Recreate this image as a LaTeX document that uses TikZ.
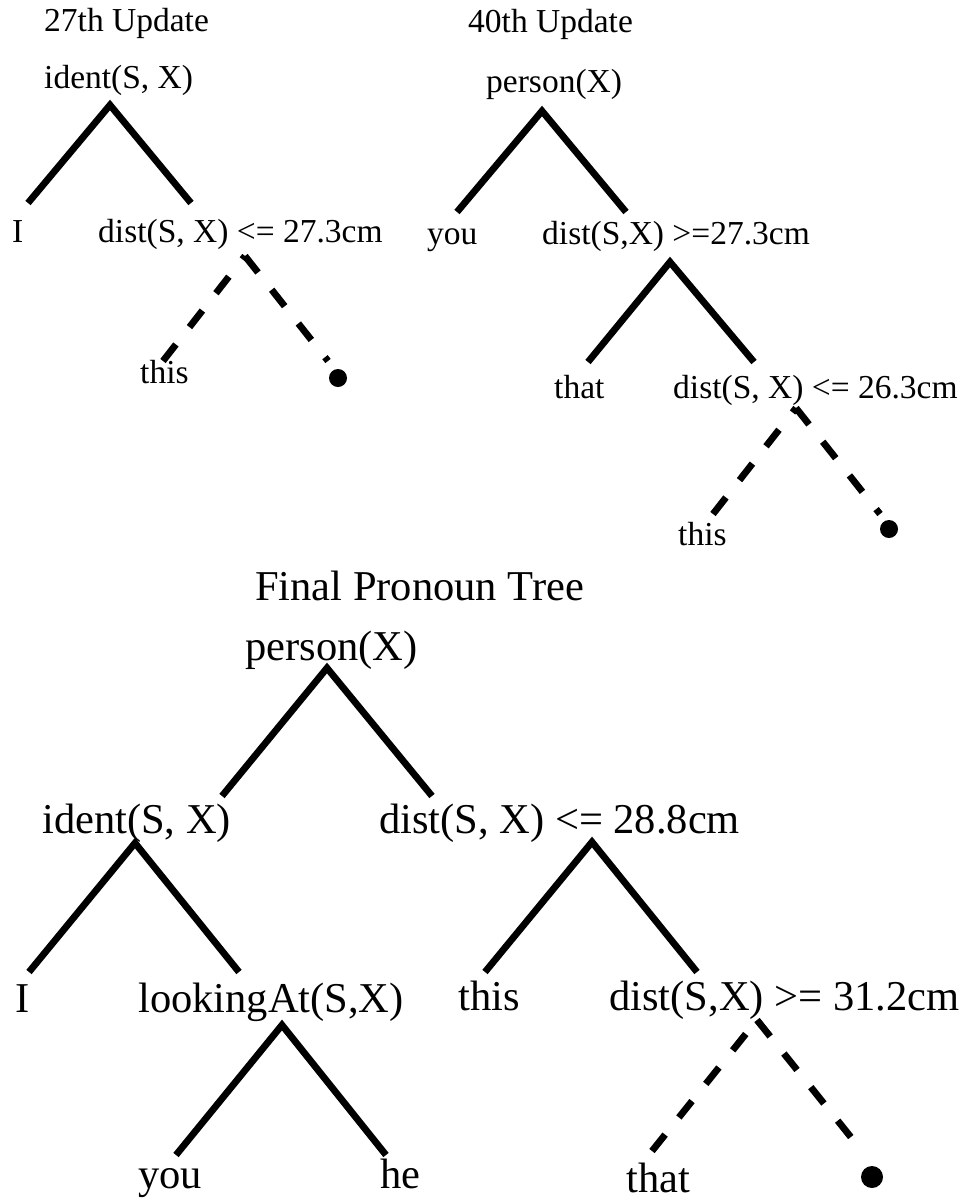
\documentclass[tikz,border=0pt]{standalone}
\usepackage{fontspec}
\setmainfont{Liberation Serif}
\begin{document}
\begin{tikzpicture}[x=1pt,y=-1pt]
\tikzset{
  lbl/.style={anchor=base west, inner sep=0pt, font=\fontsize{33.5}{40}\selectfont},
  biglbl/.style={anchor=base west, inner sep=0pt, font=\fontsize{42.5}{50}\selectfont},
  branch/.style={line width=6.8pt, line join=miter, line cap=butt},
  dbranch/.style={line width=6.8pt, line cap=butt, dash pattern=on 21pt off 22pt},
  leafdot/.style={circle, fill=black, draw=none, inner sep=0pt, minimum size=18pt},
}
\useasboundingbox (0,0) rectangle (966,1203);

% ---------- 27th Update ----------
\node[lbl] (t27) at (44,31) {27th Update};
\node[lbl] (ident1) at (44,88) {ident(S, X)};
\node[lbl] (I1) at (12,242) {I};
\node[lbl] (dist1) at (98,242) {dist(S, X) <= 27.3cm};
\node[lbl] (this1) at (140,383) {this};
\node[leafdot] (dot1) at (338,378) {};
\coordinate (a1) at (110,105);
\coordinate (l1) at (28,203);
\coordinate (r1) at (191,203);
\coordinate (a2) at (245,256);
\coordinate (l2) at (163,361);
\coordinate (r2) at (328,361);
\draw[branch] (l1) -- (a1) -- (r1);
\draw[dbranch] (l2) -- (a2);
\draw[dbranch] (a2) -- (r2);

% ---------- 40th Update ----------
\node[lbl] (t40) at (468,32) {40th Update};
\node[lbl] (person1) at (486,92) {person(X)};
\node[lbl] (you1) at (427,244) {you};
\node[lbl] (dist2) at (542,244) {dist(S,X) >=27.3cm};
\node[lbl] (that1) at (554,398) {that};
\node[lbl] (dist3) at (673,398) {dist(S, X) <= 26.3cm};
\node[lbl] (this2) at (678,545) {this};
\node[leafdot] (dot2) at (889,529) {};
\coordinate (a3) at (542,111);
\coordinate (l3) at (457,212);
\coordinate (r3) at (626,212);
\coordinate (a4) at (670,262);
\coordinate (l4) at (588,362);
\coordinate (r4) at (754,362);
\coordinate (a5) at (796,408);
\coordinate (l5) at (713,514);
\coordinate (r5) at (880,514);
\draw[branch] (l3) -- (a3) -- (r3);
\draw[branch] (l4) -- (a4) -- (r4);
\draw[dbranch] (l5) -- (a5);
\draw[dbranch] (a5) -- (r5);

% ---------- Final Pronoun Tree ----------
\node[biglbl] (tfinal) at (255,600) {Final Pronoun Tree};
\node[biglbl] (person2) at (245,660) {person(X)};
\node[biglbl] (ident2) at (42,833) {ident(S, X)};
\node[biglbl] (dist4) at (379,833) {dist(S, X) <= 28.8cm};
\node[biglbl] (I2) at (15,1012) {I};
\node[biglbl] (look) at (138,1012) {lookingAt(S,X)};
\node[biglbl] (this3) at (458,1010) {this};
\node[biglbl] (dist5) at (609,1010) {dist(S,X) >= 31.2cm};
\node[biglbl] (you2) at (138,1188) {you};
\node[biglbl] (he) at (380,1188) {he};
\node[biglbl] (that2) at (626,1192) {that};
\node[leafdot, minimum size=22pt] (dot3) at (872,1177) {};
\coordinate (a6) at (327,668);
\coordinate (l6) at (222,796);
\coordinate (r6) at (432,796);
\coordinate (a7) at (135,843);
\coordinate (l7) at (29,972);
\coordinate (r7) at (239,972);
\coordinate (a8) at (592,842);
\coordinate (l8) at (485,972);
\coordinate (r8) at (697,972);
\coordinate (a9) at (282,1025);
\coordinate (l9) at (176,1155);
\coordinate (r9) at (386,1155);
\coordinate (a10) at (757,1020);
\coordinate (l10) at (652,1151);
\coordinate (r10) at (862,1151);
\draw[branch] (l6) -- (a6) -- (r6);
\draw[branch] (l7) -- (a7) -- (r7);
\draw[branch] (l8) -- (a8) -- (r8);
\draw[branch] (l9) -- (a9) -- (r9);
\draw[dbranch] (l10) -- (a10);
\draw[dbranch] (a10) -- (r10);
\end{tikzpicture}
\end{document}
